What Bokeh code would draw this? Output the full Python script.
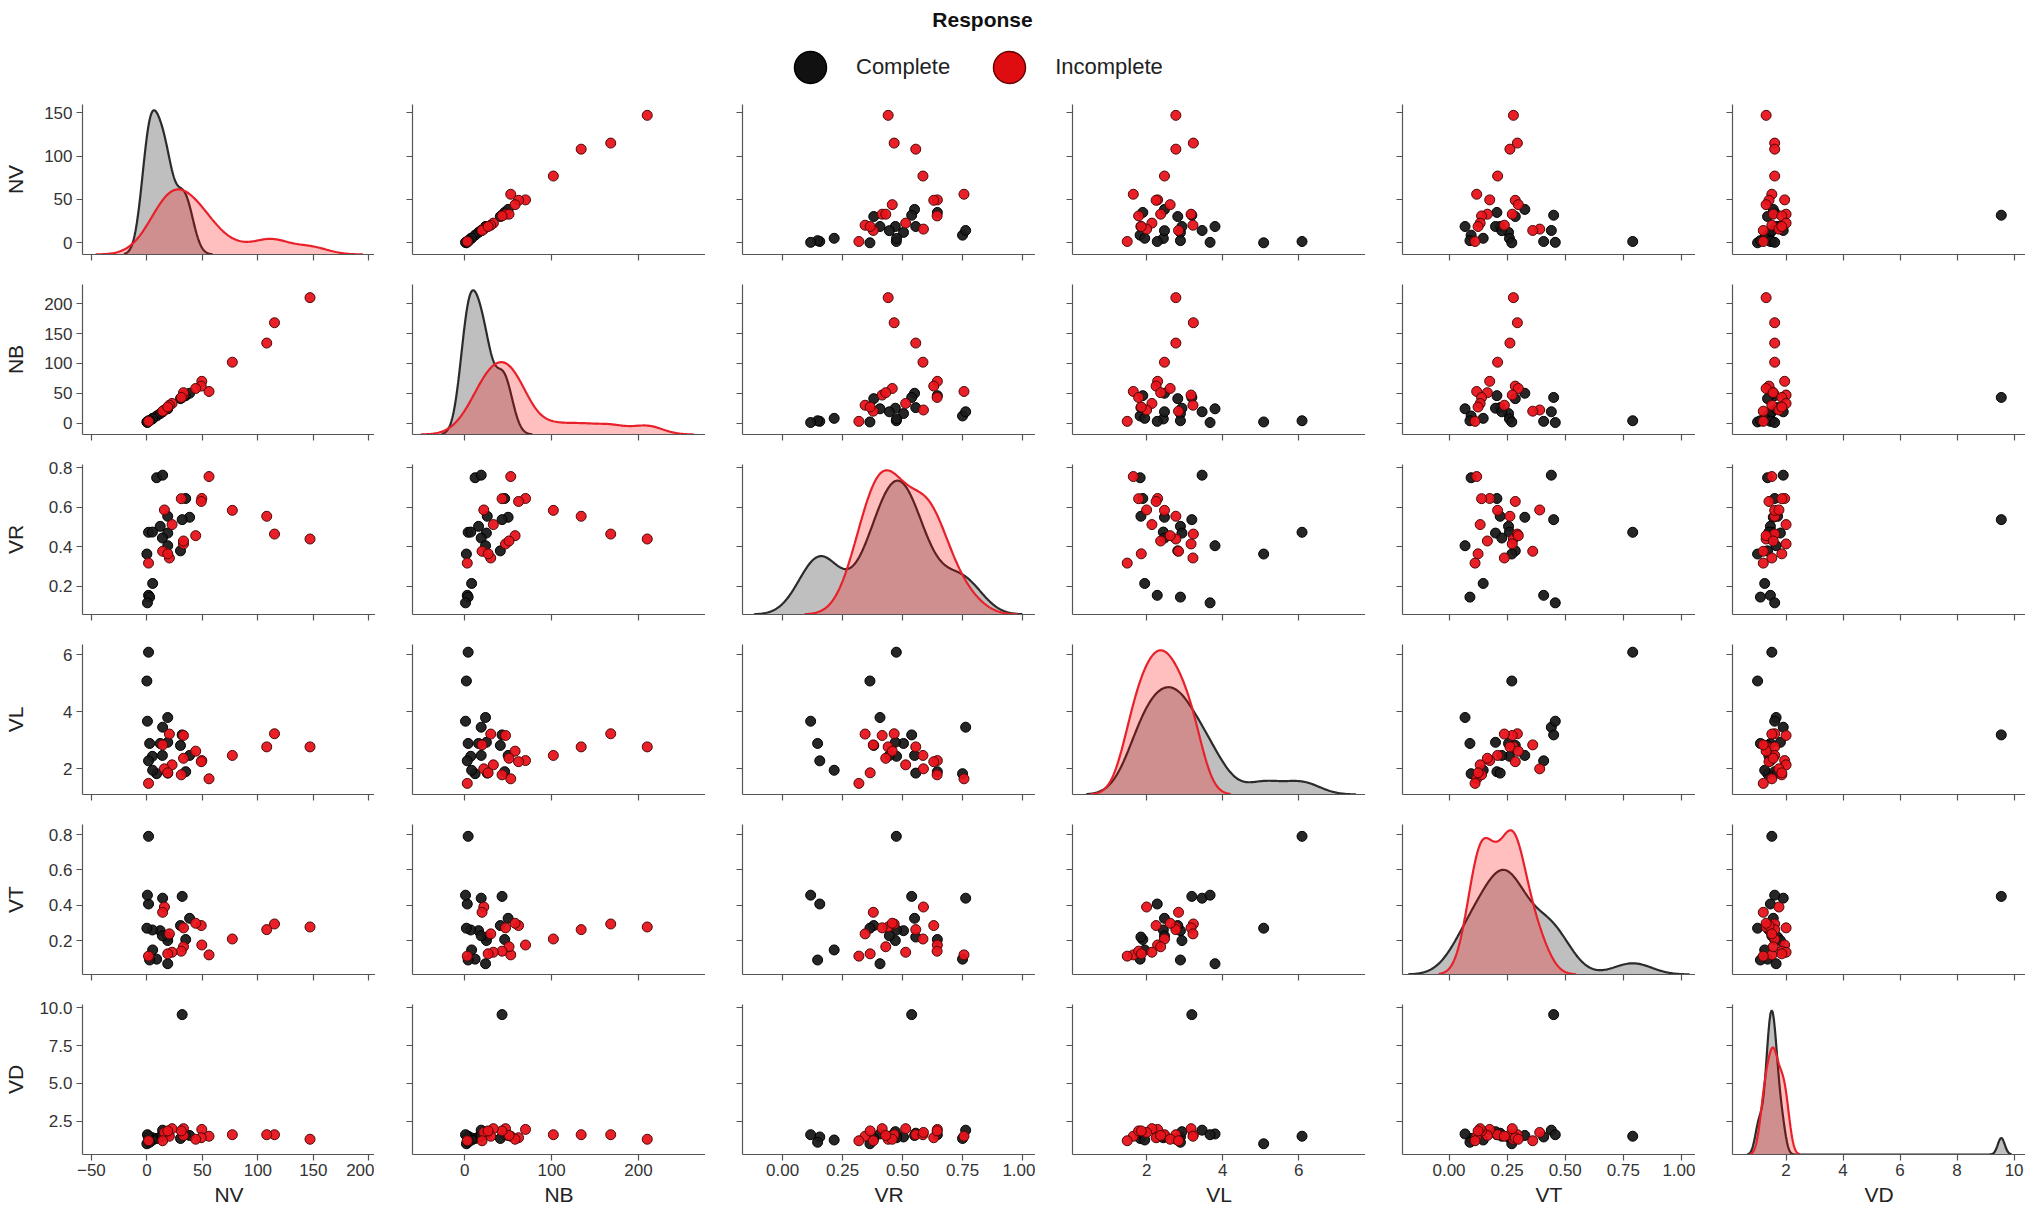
import numpy as np
from bokeh.plotting import figure
from bokeh.layouts import gridplot, column
from bokeh.models import (Range1d, FixedTicker, ColumnDataSource, Legend, LegendItem,
                          Label, CustomJSTickFormatter)
from bokeh.embed import file_html
from bokeh.resources import INLINE

# ---------------- data (one value per observation) ----------------
VARIABLES = ["NV", "NB", "VR", "VL", "VT", "VD"]
GROUPS = ["Complete", "Incomplete"]

complete_NV = [8.8, 14.2, 35.0, 38.5, 18.8, 31.8, 12.0, 1.5, 5.0, 18.8, 14.0, 18.8, 30.3, 0.0, 5.2, 1.5, 2.5, 0.5]
complete_NB = [12, 19, 46, 50, 26, 43, 16, 4, 7, 25, 19, 24, 41, 2, 8, 3, 4, 1]
complete_VR = [0.750, 0.763, 0.645, 0.550, 0.555, 0.538, 0.504, 0.474, 0.475, 0.470, 0.445, 0.406, 0.380, 0.364, 0.215, 0.155, 0.146, 0.117]
complete_VL = [1.83, 3.46, 1.90, 2.47, 1.85, 3.19, 2.89, 6.09, 2.44, 2.93, 2.47, 3.80, 2.82, 5.08, 1.95, 2.28, 2.89, 3.67]
complete_VT = [0.095, 0.440, 0.206, 0.326, 0.220, 0.450, 0.256, 0.790, 0.260, 0.200, 0.227, 0.069, 0.285, 0.270, 0.147, 0.407, 0.090, 0.457]
complete_VD = [1.35, 1.90, 1.60, 1.55, 1.70, 9.55, 1.45, 1.50, 1.40, 1.80, 1.50, 1.65, 1.35, 1.00, 1.25, 1.45, 1.10, 1.60]

incomplete_NV = [147, 115, 108, 77, 56, 49.5, 49, 44, 33, 33, 31, 22.7, 20.3, 15.8, 14.2, 18.8, 1.5]
incomplete_NB = [210, 168, 134, 102, 53, 70, 62, 58, 47, 51, 43, 33, 30, 22, 20, 27, 3]
incomplete_VR = [0.440, 0.465, 0.555, 0.585, 0.756, 0.645, 0.630, 0.457, 0.415, 0.430, 0.644, 0.513, 0.344, 0.587, 0.378, 0.365, 0.318]
incomplete_VL = [2.77, 3.23, 2.77, 2.47, 1.65, 2.29, 2.25, 2.62, 3.17, 2.37, 1.79, 2.14, 3.22, 2.00, 2.84, 1.86, 1.49]
incomplete_VT = [0.277, 0.294, 0.262, 0.209, 0.119, 0.175, 0.285, 0.298, 0.272, 0.165, 0.140, 0.134, 0.238, 0.390, 0.360, 0.125, 0.112]
incomplete_VD = [1.30, 1.60, 1.60, 1.60, 1.50, 1.95, 1.40, 1.30, 2.00, 1.55, 1.85, 2.00, 1.50, 1.75, 1.20, 1.85, 1.20]

# tick positions and labels
x_ticks = {
    "NV": [-50, 0, 50, 100, 150, 200],
    "NB": [0, 100, 200],
    "VR": [0.0, 0.25, 0.5, 0.75, 1.0],
    "VL": [2, 4, 6],
    "VT": [0.0, 0.25, 0.5, 0.75, 1.0],
    "VD": [2, 4, 6, 8, 10],
}
x_tick_labels = {
    "NV": ["\u221250", "0", "50", "100", "150", "200"],
    "NB": ["0", "100", "200"],
    "VR": ["0.00", "0.25", "0.50", "0.75", "1.00"],
    "VL": ["2", "4", "6"],
    "VT": ["0.00", "0.25", "0.50", "0.75", "1.00"],
    "VD": ["2", "4", "6", "8", "10"],
}
y_ticks = {
    "NV": [0, 50, 100, 150],
    "NB": [0, 50, 100, 150, 200],
    "VR": [0.2, 0.4, 0.6, 0.8],
    "VL": [2, 4, 6],
    "VT": [0.2, 0.4, 0.6, 0.8],
    "VD": [2.5, 5.0, 7.5, 10.0],
}
y_tick_labels = {
    "NV": ["0", "50", "100", "150"],
    "NB": ["0", "50", "100", "150", "200"],
    "VR": ["0.2", "0.4", "0.6", "0.8"],
    "VL": ["2", "4", "6"],
    "VT": ["0.2", "0.4", "0.6", "0.8"],
    "VD": ["2.5", "5.0", "7.5", "10.0"],
}

# axis limits
x_limits = {"NV": (-58, 206), "NB": (-60, 277), "VR": (-0.167, 1.054),
            "VL": (0.05, 7.76), "VT": (-0.2, 1.06), "VD": (0.12, 10.4)}
y_limits = {"NV": (-13.5, 159.5), "NB": (-19, 232), "VR": (0.058, 0.817),
            "VL": (1.1, 6.36), "VT": (0.008, 0.857), "VD": (0.29, 10.22)}

data = {
    "Complete": {"NV": complete_NV, "NB": complete_NB, "VR": complete_VR,
                 "VL": complete_VL, "VT": complete_VT, "VD": complete_VD},
    "Incomplete": {"NV": incomplete_NV, "NB": incomplete_NB, "VR": incomplete_VR,
                   "VL": incomplete_VL, "VT": incomplete_VT, "VD": incomplete_VD},
}

# ---------------- styles ----------------
FONT = "Liberation Sans"
SPINE = "#555555"
TXT = "#333333"
marker_fill = {"Complete": "#1a1a1a", "Incomplete": "#e8141b"}
marker_line = {"Complete": "#000000", "Incomplete": "#4d0808"}
kde_line = {"Complete": "#2b2b2b", "Incomplete": "#e8202a"}
kde_fill = {"Complete": "#000000", "Incomplete": "#ff0000"}

FRAME_W, FRAME_H = 293, 150
TICK_FS = 17
CHAR_W = {".": 0.278, "\u2212": 0.584}


def text_width(s, fs):
    return sum(CHAR_W.get(c, 0.556) for c in s) * fs


def kde(vals):
    x = np.asarray(vals, float)
    n = x.size
    q75, q25 = np.percentile(x, [75, 25])
    a = min(x.std(ddof=1), (q75 - q25) / 1.349)
    bw = 1.059 * a * n ** -0.2
    grid = np.linspace(x.min() - 3 * bw, x.max() + 3 * bw, 240)
    z = (grid[:, None] - x[None, :]) / bw
    dens = np.exp(-0.5 * z ** 2).sum(axis=1) / (n * bw * np.sqrt(2 * np.pi))
    return grid, dens


def style_axis(ax):
    ax.axis_line_color = SPINE
    ax.axis_line_width = 1.2
    ax.major_tick_line_color = SPINE
    ax.major_tick_line_width = 1.2
    ax.major_tick_out = 6
    ax.major_tick_in = 0
    ax.minor_tick_line_color = None
    ax.major_label_text_font = FONT
    ax.major_label_text_font_size = f"{TICK_FS}px"
    ax.major_label_text_color = TXT
    ax.major_label_standoff = 4
    ax.axis_label_text_font = FONT
    ax.axis_label_text_font_size = "21px"
    ax.axis_label_text_font_style = "normal"
    ax.axis_label_text_color = "#222222"


def hide_labels(ax):
    ax.formatter = CustomJSTickFormatter(code="return ''")
    ax.major_label_text_font_size = "0px"
    ax.major_label_standoff = 0


xr = {v: Range1d(*x_limits[v]) for v in VARIABLES}
yr = {v: Range1d(*y_limits[v]) for v in VARIABLES}

rows = []
n = len(VARIABLES)
for i, yvar in enumerate(VARIABLES):
    row = []
    for j, xvar in enumerate(VARIABLES):
        p = figure(frame_width=FRAME_W, frame_height=FRAME_H,
                   x_range=xr[xvar], y_range=yr[yvar],
                   output_backend="svg", toolbar_location=None, title=None,
                   min_border_left=79 if j == 0 else 37, min_border_right=0,
                   min_border_top=17, min_border_bottom=56 if i == n - 1 else 13,
                   background_fill_color="white", border_fill_color="white")
        p.outline_line_color = None
        p.grid.visible = False
        xa, ya = p.xaxis[0], p.yaxis[0]
        style_axis(xa)
        style_axis(ya)
        xa.ticker = FixedTicker(ticks=x_ticks[xvar])
        ya.ticker = FixedTicker(ticks=y_ticks[yvar])
        if i == n - 1:
            xa.major_label_overrides = dict(zip(x_ticks[xvar], x_tick_labels[xvar]))
            xa.axis_label = xvar
            xa.major_label_standoff = 3
            xa.axis_label_standoff = 4
        else:
            hide_labels(xa)
        if j == 0:
            ya.major_label_overrides = dict(zip(y_ticks[yvar], y_tick_labels[yvar]))
            ya.axis_label = yvar
            w = max(text_width(s, TICK_FS) for s in y_tick_labels[yvar])
            ya.axis_label_standoff = int(round(max(4, 42.5 - w)))
        else:
            hide_labels(ya)

        if i == j:
            curves = {g: kde(data[g][xvar]) for g in GROUPS}
            top = max(c[1].max() for c in curves.values()) * 1.04
            p.extra_y_ranges = {"dens": Range1d(0, top)}
            for g in GROUPS:
                gx, gd = curves[g]
                src = ColumnDataSource(dict(x=gx, d=gd, z=np.zeros_like(gx)))
                p.varea(x="x", y1="z", y2="d", source=src, y_range_name="dens",
                        fill_color=kde_fill[g], fill_alpha=0.25)
                p.line(x="x", y="d", source=src, y_range_name="dens",
                       line_color=kde_line[g], line_width=2.2)
        else:
            for g in GROUPS:
                src = ColumnDataSource(dict(x=data[g][xvar], y=data[g][yvar]))
                p.scatter(x="x", y="y", source=src, marker="circle", size=10,
                          fill_color=marker_fill[g], line_color=marker_line[g],
                          line_width=1.0, fill_alpha=0.95)
        row.append(p)
    rows.append(row)

grid = gridplot(rows, toolbar_location=None)

# ---------------- legend strip ----------------
LEG_W, LEG_H = 2022, 87
leg = figure(width=LEG_W, height=LEG_H, x_range=Range1d(0, LEG_W), y_range=Range1d(0, LEG_H),
             min_border=0, x_axis_type=None, y_axis_type=None, toolbar_location=None,
             output_backend="svg", title=None)
leg.outline_line_color = None
items = []
for g in GROUPS:
    # legend key only: the NaN point is never drawn inside the strip
    key_src = ColumnDataSource(dict(x=[np.nan], y=[np.nan]))
    r = leg.scatter(x="x", y="y", source=key_src, marker="circle", size=30,
                    fill_color="#111111" if g == "Complete" else "#e00d10",
                    line_color="#000000" if g == "Complete" else "#6a0000",
                    line_width=1.5)
    items.append(LegendItem(label=g, renderers=[r]))
legend = Legend(items=items, orientation="horizontal", location=(770, -20),
                glyph_width=80, glyph_height=80, label_standoff=6, spacing=19,
                padding=0, margin=0, border_line_color=None, background_fill_alpha=0,
                label_text_font=FONT, label_text_font_size="22px", label_text_color="#222222")
leg.add_layout(legend, "center")
leg.add_layout(Label(x=982, y=LEG_H - 19, text="Response", text_align="center",
                     text_baseline="alphabetic",
                     text_font=FONT, text_font_size="21px", text_font_style="bold",
                     text_color="#111111"))

layout = column(leg, grid, spacing=0)
open("out.html", "w").write(file_html(layout, INLINE))
